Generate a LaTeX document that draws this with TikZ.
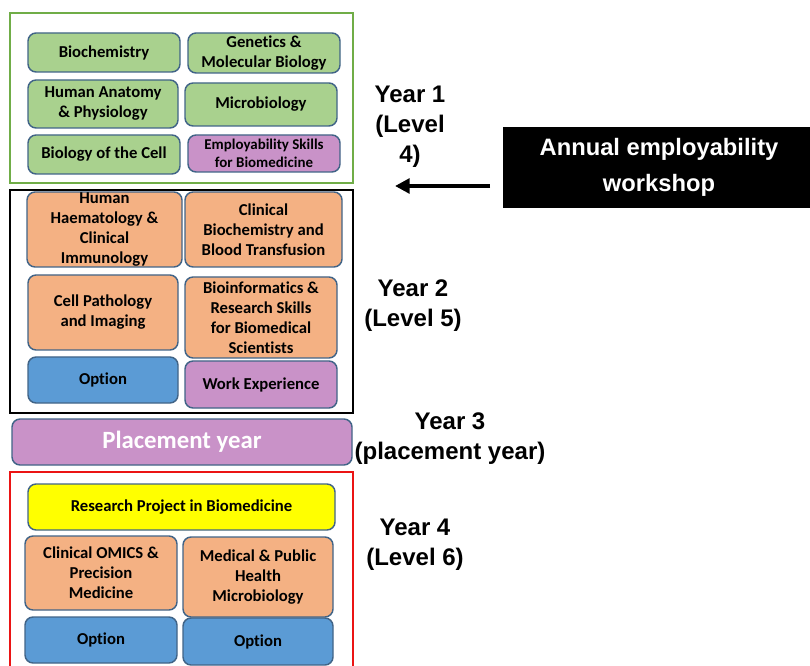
\documentclass[tikz,border=0pt]{standalone}
\usepackage{fontspec}
\setmainfont{Carlito}[RawFeature=-liga]
\newfontfamily\arialf{Liberation Sans}
\usetikzlibrary{arrows.meta}
\definecolor{gfill}{RGB}{169,209,142}
\definecolor{ofill}{RGB}{244,177,131}
\definecolor{bfill}{RGB}{91,155,213}
\definecolor{pfill}{RGB}{201,146,200}
\definecolor{yfill}{RGB}{255,255,0}
\definecolor{edgec}{RGB}{65,100,135}
\definecolor{gframe}{RGB}{112,173,71}
\definecolor{rframe}{RGB}{235,20,20}
\tikzset{
  sz/.style 2 args={minimum width=#1*0.75pt, minimum height=#2*0.75pt},
  mod/.style={draw=edgec, line width=1.1pt, rounded corners=6pt, inner sep=0pt,
    align=center, text=black, font=\bfseries\fontsize{12.5}{15}\selectfont},
  gmod/.style={mod, fill=gfill},
  omod/.style={mod, fill=ofill},
  bmod/.style={mod, fill=bfill},
  pmod/.style={mod, fill=pfill},
  ymod/.style={mod, fill=yfill},
  small/.style={font=\bfseries\fontsize{11.2}{13.5}\selectfont},
  frame/.style={line width=2pt, inner sep=0pt},
  lab/.style={font=\arialf\bfseries\fontsize{18}{22.5}\selectfont, align=center, inner sep=0pt},
}
\begin{document}
\begin{tikzpicture}[x=0.75pt,y=-0.75pt]
\useasboundingbox (0,0) rectangle (810,666);
\clip (0,0) rectangle (810,666);
% frames
\node[frame, draw=gframe, sz={343}{170}] (f1) at (181.5,98) {};
\node[frame, draw=black, sz={343}{223}] (f2) at (181.5,301.5) {};
\node[frame, draw=rframe, sz={343}{230}] (f4) at (181.5,587) {};
% Year 1
\node[gmod, sz={152}{39}] (bio) at (104,52.5) {Biochemistry};
\node[gmod, sz={152}{40}] (gen) at (264,53) {Genetics \&\\Molecular Biology};
\node[gmod, sz={150}{48}] (anat) at (103,104) {Human Anatomy\\\& Physiology};
\node[gmod, sz={152}{43}] (micro) at (261,104.5) {Microbiology};
\node[gmod, sz={152}{39}] (cell) at (104,154.5) {Biology of the Cell};
\node[pmod, small, sz={152}{37}] (emp) at (264,153.5) {Employability Skills\\for Biomedicine};
% Year 2
\node[omod, sz={155}{75}] (haem) at (104.5,229.5) {Human\\Haematology \&\\Clinical\\Immunology};
\node[omod, sz={157}{75}] (cbio) at (263.5,229.5) {Clinical\\Biochemistry and\\Blood Transfusion};
\node[omod, sz={150}{75}] (cpath) at (103,312.5) {Cell Pathology\\and Imaging};
\node[omod, sz={152}{81}] (binf) at (261,317.5) {Bioinformatics \&\\Research Skills\\for Biomedical\\Scientists};
\node[bmod, sz={150}{46}] (opt1) at (103,380) {Option};
\node[pmod, sz={152}{47}] (work) at (261,384.5) {Work Experience};
% Year 3
\node[pmod, sz={340}{46}, text=white, font=\bfseries\fontsize{18.6}{22}\selectfont] (place) at (182,442) {Placement year};
% Year 4
\node[ymod, sz={307}{46}] (rp) at (181.5,507) {Research Project in Biomedicine};
\node[omod, sz={152}{74}] (omics) at (101,573) {Clinical OMICS \&\\Precision\\Medicine};
\node[omod, sz={150}{80}] (mph) at (258,577) {Medical \& Public\\Health\\Microbiology};
\node[bmod, sz={152}{46}] (opt2) at (101,640) {Option};
\node[bmod, sz={150}{47}] (opt3) at (258,641.5) {Option};
% labels
\node[lab] (y1) at (410,127) {Year 1\\(Level\\4)};
\node[lab] (y2) at (413,306) {Year 2\\(Level 5)};
\node[lab] (y3) at (450,439) {Year 3\\(placement year)};
\node[lab] (y4) at (415,545) {Year 4\\(Level 6)};
% workshop
\node[fill=black, text=white, inner sep=0pt, align=center, sz={312}{81},
  font=\arialf\bfseries\fontsize{17.8}{27}\selectfont] (ws) at (659,167.5) {Annual employability\\workshop};
\coordinate (as) at (490,186);
\coordinate (ae) at (395,186);
\draw[line width=3pt, -{Triangle[length=11pt,width=11pt]}] (as) -- (ae);
\end{tikzpicture}
\end{document}
